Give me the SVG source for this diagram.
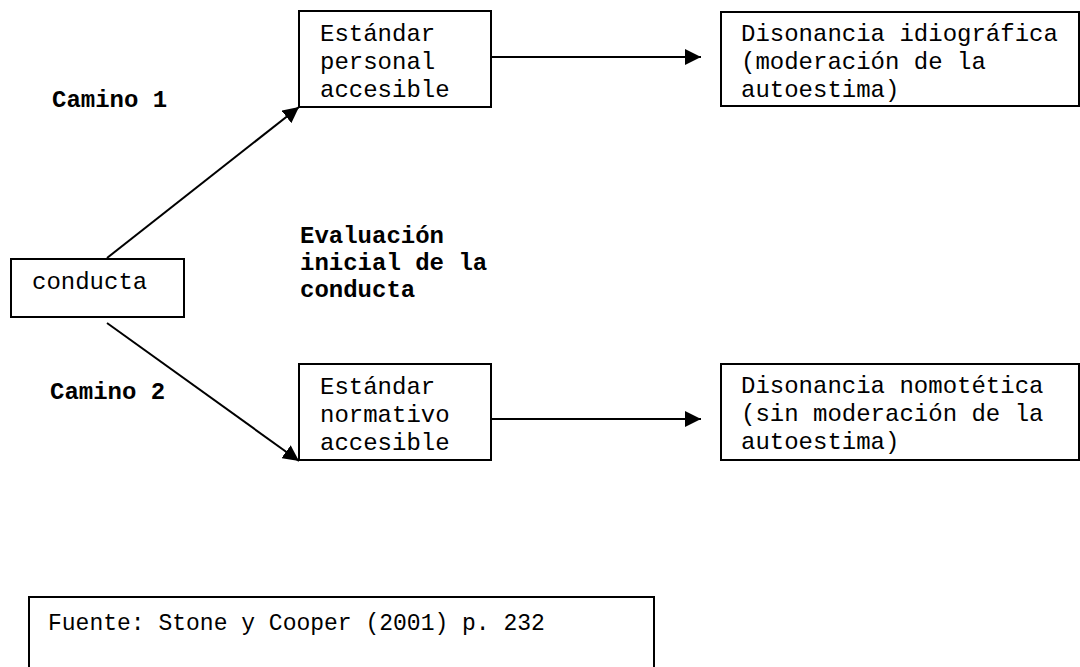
<svg xmlns="http://www.w3.org/2000/svg" width="1080" height="667" viewBox="0 0 1080 667">
<defs>
<style>
.box{fill:#fff;stroke:#000;stroke-width:2}
.t{font-family:"Liberation Mono","Courier New",monospace;font-size:24px;fill:#000}
.f{font-family:"Liberation Mono","Courier New",monospace;font-size:23px;fill:#000}
.b{font-family:"Liberation Mono","Courier New",monospace;font-size:24px;font-weight:bold;fill:#000}
.c{stroke:#000;stroke-width:2;fill:none}
</style>
<marker id="ah" markerUnits="userSpaceOnUse" markerWidth="20" markerHeight="16" refX="16" refY="8" orient="auto">
<path d="M0,0 L16,8 L0,16 Z" fill="#000"/>
</marker>
</defs>
<rect width="1080" height="667" fill="#fff"/>
<g id="connectors">
<line class="c" x1="491" y1="57" x2="701" y2="57" marker-end="url(#ah)"/>
<line class="c" x1="491" y1="419" x2="701" y2="419" marker-end="url(#ah)"/>
<line class="c" x1="107" y1="258" x2="299" y2="107" marker-end="url(#ah)"/>
<line class="c" x1="107" y1="323" x2="299" y2="461" marker-end="url(#ah)"/>
</g>
<g id="std-personal">
<rect class="box" x="299" y="11" width="192" height="96"/>
<text class="t" x="320" y="41">Estándar</text>
<text class="t" x="320" y="69">personal</text>
<text class="t" x="320" y="97">accesible</text>
</g>
<g id="dis-idio">
<rect class="box" x="721" y="12" width="358" height="94"/>
<text class="t" x="741" y="41">Disonancia idiográfica</text>
<text class="t" x="741" y="69">(moderación de la</text>
<text class="t" x="741" y="97">autoestima)</text>
</g>
<g id="conducta">
<rect class="box" x="11" y="259" width="173" height="58"/>
<text class="t" x="32" y="289">conducta</text>
</g>
<g id="std-normativo">
<rect class="box" x="299" y="364" width="192" height="96"/>
<text class="t" x="320" y="394">Estándar</text>
<text class="t" x="320" y="422">normativo</text>
<text class="t" x="320" y="450">accesible</text>
</g>
<g id="dis-nomo">
<rect class="box" x="721" y="364" width="358" height="96"/>
<text class="t" x="741" y="393">Disonancia nomotética</text>
<text class="t" x="741" y="421">(sin moderación de la</text>
<text class="t" x="741" y="449">autoestima)</text>
</g>
<g id="camino1"><text class="b" x="52" y="107">Camino 1</text></g>
<g id="camino2"><text class="b" x="50" y="399">Camino 2</text></g>
<g id="evaluacion">
<text class="b" x="300" y="243">Evaluación</text>
<text class="b" x="300" y="270">inicial de la</text>
<text class="b" x="300" y="297">conducta</text>
</g>
<g id="fuente">
<rect class="box" x="29" y="597" width="625" height="90"/>
<text class="f" x="48" y="630">Fuente: Stone y Cooper (2001) p. 232</text>
</g>
</svg>
